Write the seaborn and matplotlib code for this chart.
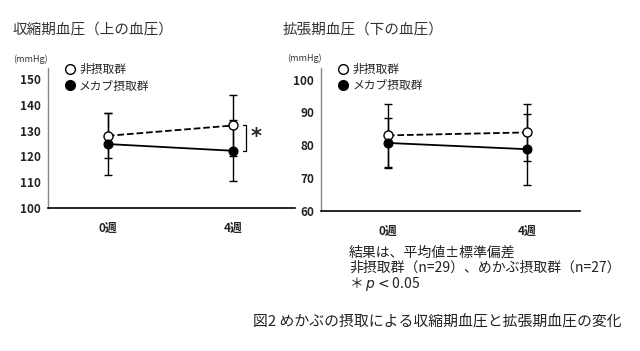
import matplotlib
matplotlib.use('Agg')
import matplotlib.pyplot as plt
from matplotlib.lines import Line2D
import seaborn as sns
import pandas as pd

# Data
weeks = ['0週', '4週']
groups = ['非摂取群', 'メカブ摂取群']

sys_mean_non = [128.0, 132.0]
sys_sd_non = [8.7, 12.0]
sys_mean_mek = [124.8, 122.2]
sys_sd_mek = [12.0, 11.9]

dia_mean_non = [83.0, 83.9]
dia_sd_non = [9.5, 8.8]
dia_mean_mek = [80.7, 78.8]
dia_sd_mek = [7.5, 10.8]

sys_ticks = [100, 110, 120, 130, 140, 150]
dia_ticks = [60, 70, 80, 90, 100]

sns.set_theme(style='white')
plt.rcParams['font.family'] = ['Noto Sans CJK JP', 'DejaVu Sans']
plt.rcParams['axes.unicode_minus'] = False

W, H = 640, 351
fig = plt.figure(figsize=(W / 100, H / 100), dpi=100)


def px_axes(x0, y0, x1, y1):
    return fig.add_axes([x0 / W, 1 - y1 / H, (x1 - x0) / W, (y1 - y0) / H])


def draw_panel(ax, mean_non, sd_non, mean_mek, sd_mek, ticks, ylim, xlim):
    pos = list(range(len(weeks)))
    df = pd.DataFrame({'pos': pos * 2,
                       'val': mean_non + mean_mek,
                       'grp': [groups[0]] * 2 + [groups[1]] * 2})
    for means, sds in [(mean_non, sd_non), (mean_mek, sd_mek)]:
        ax.errorbar(pos, means, yerr=sds, fmt='none', ecolor='black',
                    elinewidth=1.0, capsize=3, capthick=1.0, zorder=2)
    sns.lineplot(data=df[df.grp == groups[0]], x='pos', y='val', ax=ax,
                 color='black', linestyle='--', linewidth=1.3, marker='o',
                 markersize=6.5, markerfacecolor='white',
                 markeredgecolor='black', markeredgewidth=1.0, zorder=3)
    sns.lineplot(data=df[df.grp == groups[1]], x='pos', y='val', ax=ax,
                 color='black', linestyle='-', linewidth=1.3, marker='o',
                 markersize=6.5, markerfacecolor='black',
                 markeredgecolor='black', zorder=4)
    ax.set_xlim(*xlim)
    ax.set_ylim(*ylim)
    ax.set_xticks(pos)
    ax.set_xticklabels(weeks, fontsize=8.5, fontweight='bold', color='#222222')
    ax.set_yticks(ticks)
    ax.set_yticklabels([str(t) for t in ticks], fontsize=8.5,
                       fontweight='bold', color='#222222')
    ax.tick_params(axis='x', length=0, pad=10)
    ax.tick_params(axis='y', length=0, pad=5)
    ax.set_xlabel('')
    ax.set_ylabel('')
    for s in ['top', 'right']:
        ax.spines[s].set_visible(False)
    ax.spines['left'].set_color('#888888')
    ax.spines['bottom'].set_color('black')
    ax.spines['left'].set_linewidth(1.0)
    ax.spines['bottom'].set_linewidth(1.2)
    handles = [Line2D([], [], linestyle='none', marker='o', markersize=7,
                      markerfacecolor='white', markeredgecolor='black'),
               Line2D([], [], linestyle='none', marker='o', markersize=7,
                      markerfacecolor='black', markeredgecolor='black')]
    ax.legend(handles, groups, loc='upper left', bbox_to_anchor=(0.04, 1.07),
              frameon=False, fontsize=8.5, handletextpad=0.2,
              labelspacing=0.3, handlelength=1.2, borderaxespad=0)


ax1 = px_axes(48, 68, 295, 208)
draw_panel(ax1, sys_mean_non, sys_sd_non, sys_mean_mek, sys_sd_mek,
           sys_ticks, (100, 154.3), (-0.48, 1.5))
# significance bracket
bx = 1.11
ax1.plot([bx - 0.03, bx, bx, bx - 0.03],
         [sys_mean_non[1], sys_mean_non[1], sys_mean_mek[1], sys_mean_mek[1]],
         color='black', linewidth=0.9)
ax1.text(bx + 0.08, (sys_mean_non[1] + sys_mean_mek[1]) / 2 + 0.5, '*',
         fontsize=15, fontweight='bold', ha='center', va='center',
         family='DejaVu Sans')

ax2 = px_axes(321, 68, 580, 211)
draw_panel(ax2, dia_mean_non, dia_sd_non, dia_mean_mek, dia_sd_mek,
           dia_ticks, (60, 103.5), (-0.48, 1.38))


def ftext(x, y, s, **kw):
    fig.text(x / W, 1 - y / H, s, **kw)


ftext(12, 30, '収縮期血圧（上の血圧）', fontsize=10.5, va='center', color='#333333')
ftext(283, 30, '拡張期血圧（下の血圧）', fontsize=10.5, va='center', color='#333333')
ftext(13, 59, '(mmHg)', fontsize=6.5, va='center', color='#333333')
ftext(287, 58, '(mmHg)', fontsize=6.5, va='center', color='#333333')

ftext(349, 253, '結果は、平均値±標準偏差', fontsize=10, va='center', color='#222222')
ftext(349, 268, '非摂取群（n=29）、めかぶ摂取群（n=27）', fontsize=10,
      va='center', color='#222222')
ftext(349, 284, '＊ $p < $0.05', fontsize=10, va='center', color='#222222')
ftext(622, 322, '図2 めかぶの摂取による収縮期血圧と拡張期血圧の変化', fontsize=10.7,
      va='center', ha='right', color='#222222')

fig.savefig('out.png', dpi=100)
